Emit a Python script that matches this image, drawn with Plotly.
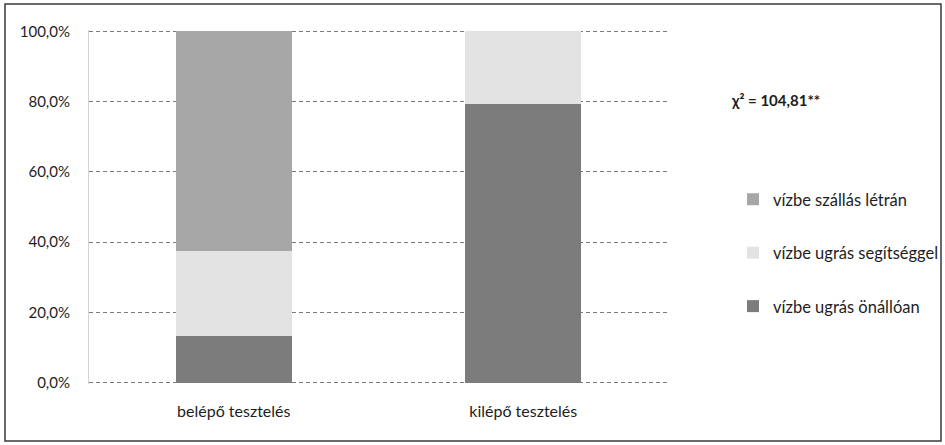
import plotly.graph_objects as go

categories = ["belépő tesztelés", "kilépő tesztelés"]
series_names = ["vízbe ugrás önállóan", "vízbe ugrás segítséggel", "vízbe szállás létrán"]
onalloan = [13.4, 79.3]
segitseggel = [24.2, 20.7]
letran = [62.4, 0.0]
series_values = [onalloan, segitseggel, letran]
series_colors = ["#7c7c7c", "#e3e3e3", "#a7a7a7"]
legend_ranks = [3, 2, 1]
y_tick_vals = [0, 20, 40, 60, 80, 100]
y_tick_text = ["0,0%", "20,0%", "40,0%", "60,0%", "80,0%", "100,0%"]
chi_text = "χ² = 104,81**"

FONT = "Lato, 'Open Sans', sans-serif"
TXT = "#1e1e1e"
W, H = 945, 445

# plot area in pixels
PL, PR, PT, PB = 89, 668, 30, 384
PW, PH = PR - PL, PB - PT


def px_x(x):
    return (x - PL) / PW


def px_y(y):
    return (PB - y) / PH


fig = go.Figure()
for name, vals, col, rk in zip(series_names, series_values, series_colors, legend_ranks):
    fig.add_trace(go.Bar(
        x=categories, y=vals, name=name, width=0.4,
        marker=dict(color=col, line=dict(width=0)),
        legendgroup=name, legendrank=rk,
    ))

fig.update_layout(
    width=W, height=H,
    barmode="stack",
    paper_bgcolor="white", plot_bgcolor="white",
    margin=dict(l=PL, r=W - PR, t=PT, b=H - PB, autoexpand=False),
    font=dict(family=FONT, size=15, color=TXT),
    showlegend=True,
    legend=dict(
        traceorder="grouped",
        tracegroupgap=29,
        xref="container", yref="container",
        x=733 / W, xanchor="left",
        y=1 - 182 / H, yanchor="top",
        font=dict(family=FONT, size=16.5, color=TXT),
        bgcolor="rgba(0,0,0,0)",
    ),
    xaxis=dict(
        range=[-0.5, 1.5], showgrid=False, zeroline=False,
        showline=False, ticks="", tickfont=dict(size=16, color=TXT),
        ticklabelstandoff=16,
    ),
    yaxis=dict(
        range=[-0.4, 100.4], tickvals=y_tick_vals, ticktext=y_tick_text,
        showgrid=True, gridcolor="#7a7a7a", gridwidth=1, griddash="4px,3px",
        zeroline=False, showline=True, linecolor="#d4d4d4", linewidth=1,
        ticks="", tickfont=dict(size=15, color=TXT),
        ticklabelstandoff=15,
    ),
    annotations=[dict(
        text="<b>" + chi_text + "</b>", xref="paper", yref="paper",
        x=px_x(729), y=px_y(100), xanchor="left", yanchor="middle",
        showarrow=False, font=dict(family=FONT, size=15, color=TXT),
    )],
    shapes=[dict(
        type="rect", xref="paper", yref="paper",
        x0=px_x(5), x1=px_x(941),
        y0=px_y(441), y1=px_y(4),
        line=dict(color="#3a3a3a", width=1.5), fillcolor="rgba(0,0,0,0)", layer="below",
    )],
)

fig.write_html(
    "out.html",
    config={"displayModeBar": False},
    post_script="document.body.style.margin='0';document.body.style.overflow='hidden';",
)
